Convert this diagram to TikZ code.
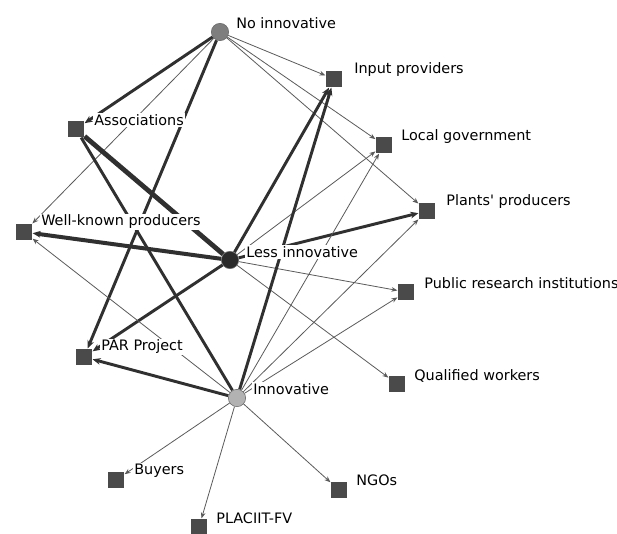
\documentclass[tikz,border=0pt]{standalone}
\usepackage{fontspec}
\setmainfont{DejaVu Sans}
\usepackage{tikz}
\usetikzlibrary{arrows.meta,backgrounds}
\definecolor{actorgray}{HTML}{4A4A4A}
\definecolor{noinno}{HTML}{7E7E7E}
\definecolor{lessinno}{HTML}{2A2A2A}
\definecolor{inno}{HTML}{B2B2B2}
\definecolor{linegray}{HTML}{5A5A5A}
\definecolor{linedark}{HTML}{303030}

\begin{document}
\begin{tikzpicture}[x=0.75pt,y=-0.75pt,
  actor/.style={rectangle,fill=actorgray,minimum size=12.5pt,inner sep=0pt},
  cat/.style={circle,minimum size=13pt,inner sep=0pt,draw=black!60,line width=0.4pt},
  lbl/.style={anchor=west,fill=white,inner sep=0.8pt,
              font=\fontsize{10.8}{12}\selectfont},
  weak/.style={-{Stealth[length=4.5pt,width=3.5pt]},line width=0.6pt,draw=linegray},
  strong/.style={-{Stealth[length=6pt,width=5pt]},line width=2.2pt,draw=linedark},
  heavy/.style={line width=3.6pt,draw=linedark}
]
\useasboundingbox (0,0) rectangle (617,533);

% categorias de innovacion
\node[cat,fill=noinno]   (noinn)   at (220,32)  {};
\node[cat,fill=lessinno] (lessinn) at (230,260) {};
\node[cat,fill=inno]     (inn)     at (237,398) {};

% actores
\node[actor] (input)  at (334,79)  {};
\node[actor] (locgov) at (384,145) {};
\node[actor] (plants) at (427,211) {};
\node[actor] (assoc)  at (76,129)  {};
\node[actor] (wellkn) at (24,232)  {};
\node[actor] (pubres) at (406,292) {};
\node[actor] (qualw)  at (397,384) {};
\node[actor] (par)    at (84,357)  {};
\node[actor] (buyers) at (116,480) {};
\node[actor] (placiit) at (199,527) {};
\node[actor] (ngos)   at (339,490) {};

% etiquetas
\node[lbl] (lnoinn)   at (235,23)  {No innovative};
\node[lbl] (llessinn) at (245,252) {Less innovative};
\node[lbl] (linn)     at (252,389) {Innovative};
\node[lbl] (linput)   at (353,70)  {Input providers};
\node[lbl] (llocgov)  at (400,137) {Local government};
\node[lbl] (lplants)  at (445,202) {Plants\textquotesingle\ producers};
\node[lbl] (lassoc)   at (93,120)  {Associations};
\node[lbl] (lwellkn)  at (40,222)  {Well-known producers};
\node[lbl] (lpubres)  at (423,283) {Public research institutions};
\node[lbl] (lqualw)   at (413,376) {Qualified workers};
\node[lbl] (lpar)     at (100,347) {PAR Project};
\node[lbl] (lbuyers)  at (133,471) {Buyers};
\node[lbl] (lplaciit) at (215,518) {PLACIIT-FV};
\node[lbl] (lngos)    at (355,480) {NGOs};

% vinculos
\begin{scope}[on background layer]
\draw[strong] (noinn) -- (assoc);
\draw[strong] (noinn) -- (par);
\draw[weak] (noinn) -- (wellkn);
\draw[weak] (noinn) -- (input);
\draw[weak] (noinn) -- (locgov);
\draw[weak] (noinn) -- (plants);

\draw[heavy] (assoc) -- (lessinn);
\draw[heavy,line width=2.2pt] (assoc) -- (inn);

\draw[strong,line width=3pt] (lessinn) -- (wellkn);
\draw[strong] (lessinn) -- (par);
\draw[strong] (lessinn) -- (input);
\draw[strong] (lessinn) -- (plants);
\draw[weak] (lessinn) -- (locgov);
\draw[weak] (lessinn) -- (pubres);
\draw[weak] (lessinn) -- (qualw);

\draw[strong] (inn) -- (input);
\draw[strong] (inn) -- (par);
\draw[weak] (inn) -- (wellkn);
\draw[weak] (inn) -- (locgov);
\draw[weak] (inn) -- (plants);
\draw[weak] (inn) -- (pubres);
\draw[weak] (inn) -- (buyers);
\draw[weak] (inn) -- (placiit);
\draw[weak] (inn) -- (ngos);
\end{scope}
\end{tikzpicture}
\end{document}
